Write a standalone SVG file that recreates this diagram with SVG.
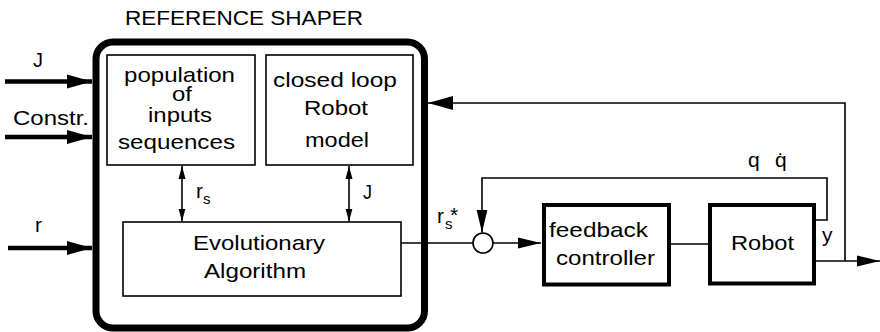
<svg xmlns="http://www.w3.org/2000/svg" width="880" height="332" viewBox="0 0 880 332">
  <style>
    text { font-family: "Liberation Sans", Arial, sans-serif; font-size: 21px; fill: #000; }
    .thin { fill: none; stroke: #000; stroke-width: 1.6; }
    .box { fill: #fff; stroke: #000; stroke-width: 1.6; }
    .heavy { fill: #fff; stroke: #000; stroke-width: 4; }
    .shaper { fill: none; stroke: #000; stroke-width: 7; }
    .input { fill: none; stroke: #000; stroke-width: 4.5; }
    .sub { font-size: 15px; }
  </style>
  <defs>
    <marker id="headSmall" markerUnits="userSpaceOnUse" markerWidth="14" markerHeight="8" refX="13" refY="4" orient="auto-start-reverse">
      <polygon points="0,0.5 13,4 0,7.5" fill="#000"/>
    </marker>
    <marker id="headMid" markerUnits="userSpaceOnUse" markerWidth="24" markerHeight="14" refX="23" refY="7" orient="auto">
      <polygon points="0,1.5 23,7 0,12.5" fill="#000"/>
    </marker>
    <marker id="headBig" markerUnits="userSpaceOnUse" markerWidth="26" markerHeight="16" refX="25" refY="8" orient="auto">
      <polygon points="0,1 25,8 0,15" fill="#000"/>
    </marker>
  </defs>

  <!-- reference shaper container -->
  <g id="reference-shaper">
    <rect class="shaper" x="96" y="42" width="328.5" height="286" rx="17"/>
    <text x="125" y="25" font-size="20" textLength="238" lengthAdjust="spacingAndGlyphs">REFERENCE SHAPER</text>
  </g>

  <g id="population">
    <rect class="box" x="107" y="55" width="148" height="110"/>
    <text x="124" y="82" textLength="111" lengthAdjust="spacingAndGlyphs">population</text>
    <text x="172" y="101" textLength="20" lengthAdjust="spacingAndGlyphs">of</text>
    <text x="148" y="122" textLength="64" lengthAdjust="spacingAndGlyphs">inputs</text>
    <text x="118" y="149" textLength="117" lengthAdjust="spacingAndGlyphs">sequences</text>
  </g>

  <g id="robot-model">
    <rect class="box" x="266" y="55" width="147" height="110"/>
    <text x="273" y="87" textLength="124" lengthAdjust="spacingAndGlyphs">closed loop</text>
    <text x="304" y="115" textLength="64" lengthAdjust="spacingAndGlyphs">Robot</text>
    <text x="305" y="147" textLength="64" lengthAdjust="spacingAndGlyphs">model</text>
  </g>

  <g id="evolutionary-algorithm">
    <rect class="box" x="123" y="222" width="278" height="74"/>
    <text x="193" y="250" textLength="132" lengthAdjust="spacingAndGlyphs">Evolutionary</text>
    <text x="204" y="278" textLength="102" lengthAdjust="spacingAndGlyphs">Algorithm</text>
  </g>

  <g id="summing-junction">
    <circle cx="483" cy="243" r="10" fill="#fff" stroke="#000" stroke-width="1.6"/>
  </g>

  <g id="feedback-controller">
    <rect class="heavy" x="544" y="205" width="125" height="79.5"/>
    <text x="549" y="237" textLength="99" lengthAdjust="spacingAndGlyphs">feedback</text>
    <text x="556" y="265" textLength="99" lengthAdjust="spacingAndGlyphs">controller</text>
  </g>

  <g id="robot">
    <rect class="heavy" x="710" y="205" width="104" height="78.5"/>
    <text x="731" y="250" textLength="63" lengthAdjust="spacingAndGlyphs">Robot</text>
  </g>

  <!-- signal lines -->
  <g id="connectors">
    <line class="input" x1="5" y1="81.5" x2="92" y2="81.5" marker-end="url(#headBig)"/>
    <line class="input" x1="5" y1="137" x2="92" y2="137" marker-end="url(#headBig)"/>
    <line class="input" x1="8" y1="248" x2="92" y2="248" marker-end="url(#headBig)"/>

    <line class="thin" x1="182" y1="166" x2="182" y2="221.5" marker-start="url(#headSmall)" marker-end="url(#headSmall)"/>
    <line class="thin" x1="349" y1="166" x2="349" y2="221.5" marker-start="url(#headSmall)" marker-end="url(#headSmall)"/>

    <line class="thin" x1="401" y1="243" x2="473" y2="243"/>
    <line class="thin" x1="493" y1="243" x2="541" y2="243" marker-end="url(#headMid)"/>
    <line class="thin" x1="669" y1="244" x2="710" y2="244"/>
    <line class="thin" x1="814" y1="261" x2="880" y2="261" marker-end="url(#headMid)"/>

    <polyline class="thin" points="845,261 845,103 428,103" marker-end="url(#headBig)"/>
    <polyline class="thin" points="814,220 827,220 827,178 482,178 482,232.5" marker-end="url(#headMid)"/>
  </g>

  <!-- signal labels -->
  <g id="labels">
    <text x="33" y="67" textLength="10" lengthAdjust="spacingAndGlyphs">J</text>
    <text x="13" y="125" textLength="76" lengthAdjust="spacingAndGlyphs">Constr.</text>
    <text x="35" y="232">r</text>
    <text x="196" y="198">r</text><text class="sub" x="203" y="204">s</text>
    <text x="363" y="199" textLength="9" lengthAdjust="spacingAndGlyphs">J</text>
    <text x="437" y="223">r</text><text class="sub" x="445" y="229">s</text><text x="450" y="222" font-size="18">*</text>
    <text x="748" y="167">q</text>
    <text x="775" y="167">q&#x307;</text>
    <text x="822" y="242">y</text>
  </g>
</svg>
